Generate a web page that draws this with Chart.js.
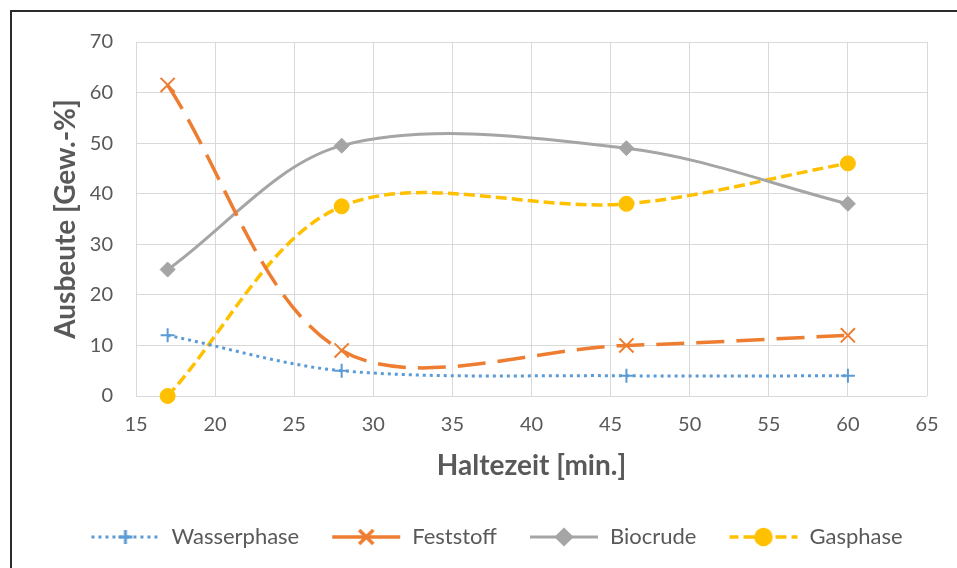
<!DOCTYPE html>
<html>
<head>
<meta charset="utf-8">
<script src="https://cdn.jsdelivr.net/npm/chart.js@4.4.1/dist/chart.umd.min.js"></script>
<style>
  html, body { margin: 0; padding: 0; background: #ffffff; }
  #wrap { position: relative; width: 957px; height: 568px; }
</style>
</head>
<body>
<div id="wrap"><canvas id="chart"></canvas></div>
<script>
// Holding time (min.) and product yields (wt.-%)
const haltezeit = [17, 28, 46, 60];
const wasserphase = [12, 5, 4, 4];
const feststoff = [61.5, 9, 10, 12];
const biocrude = [25, 49.5, 49, 38];
const gasphase = [0, 37.5, 38, 46];

const xTicks = [15, 20, 25, 30, 35, 40, 45, 50, 55, 60, 65];
const yTicks = [0, 10, 20, 30, 40, 50, 60, 70];

const seriesNames = ['Wasserphase', 'Feststoff', 'Biocrude', 'Gasphase'];

const TEXT = '#595959';
const GRID = '#d9d9d9';
const FONT = 'Lato, "Liberation Sans", sans-serif';

function points(values) {
  return haltezeit.map((x, i) => ({ x: x, y: values[i] }));
}

// Line + marker sample used as the legend symbol
function legendIcon(ds) {
  const w = 70, h = 24;
  const c = document.createElement('canvas');
  c.width = w; c.height = h;
  const ctx = c.getContext('2d');
  ctx.strokeStyle = ds.borderColor;
  ctx.lineWidth = ds.borderWidth;
  ctx.setLineDash(ds.legendDash || []);
  ctx.lineDashOffset = ds.legendDashOffset || 0;
  ctx.beginPath();
  ctx.moveTo(1, h / 2);
  ctx.lineTo(w - 1, h / 2);
  ctx.stroke();
  ctx.setLineDash([]);
  ctx.fillStyle = ds.pointBackgroundColor;
  ctx.strokeStyle = ds.pointBorderColor;
  Chart.helpers.drawPoint(ctx, {
    pointStyle: ds.pointStyle,
    radius: ds.pointRadius,
    borderWidth: ds.pointBorderWidth,
    rotation: 0
  }, w / 2, h / 2);
  return c;
}

const datasets = [
  {
    label: seriesNames[0],
    data: points(wasserphase),
    borderColor: '#5b9bd5',
    borderWidth: 3,
    borderDash: [3, 4],
    legendDash: [3, 4],
    pointStyle: 'cross',
    pointRadius: 7,
    pointBorderWidth: 2,
    pointBorderColor: '#5b9bd5',
    pointBackgroundColor: '#5b9bd5'
  },
  {
    label: seriesNames[1],
    data: points(feststoff),
    borderColor: '#ed7d31',
    borderWidth: 3.5,
    borderDash: [28, 12],
    legendDash: [],
    pointStyle: 'crossRot',
    pointRadius: 10,
    pointBorderWidth: 2,
    pointBorderColor: '#ed7d31',
    pointBackgroundColor: '#ed7d31'
  },
  {
    label: seriesNames[2],
    data: points(biocrude),
    borderColor: '#a5a5a5',
    borderWidth: 3,
    borderDash: [],
    pointStyle: 'rectRot',
    pointRadius: 7.5,
    pointBorderWidth: 1,
    pointBorderColor: '#a5a5a5',
    pointBackgroundColor: '#a5a5a5'
  },
  {
    label: seriesNames[3],
    data: points(gasphase),
    borderColor: '#ffc000',
    borderWidth: 3.5,
    borderDash: [11, 5],
    legendDash: [11, 5],
    legendDashOffset: 2,
    pointStyle: 'circle',
    pointRadius: 7.5,
    pointBorderWidth: 1,
    pointBorderColor: '#ffc000',
    pointBackgroundColor: '#ffc000'
  }
].map(ds => Object.assign(ds, {
  fill: false,
  tension: 0.33,
  clip: false,
  pointHoverRadius: ds.pointRadius
}));

// Outer frame of the chart object
const framePlugin = {
  id: 'frame',
  afterDraw(chart) {
    const ctx = chart.ctx;
    ctx.save();
    ctx.strokeStyle = '#2b2b2b';
    ctx.lineWidth = 2;
    ctx.strokeRect(11, 11, 960, 570);
    ctx.restore();
  }
};

// Legend row sits a little right of the canvas centre and closer to the axis title
const legendShift = {
  id: 'legendShift',
  afterLayout(chart) {
    const lg = chart.legend;
    if (lg) {
      lg.left += 33; lg.right += 33;
      lg.top -= 2; lg.bottom -= 2;
    }
  }
};

new Chart(document.getElementById('chart'), {
  type: 'line',
  data: { datasets: datasets },
  plugins: [framePlugin, legendShift],
  options: {
    responsive: true,
    maintainAspectRatio: false,
    animation: false,
    events: [],
    layout: { padding: { left: 0, right: 30, top: 42, bottom: 8 } },
    scales: {
      x: {
        type: 'linear',
        min: 15,
        max: 65,
        afterBuildTicks(scale) { scale.ticks = xTicks.map(v => ({ value: v })); },
        afterFit(scale) { scale.height = 100; },
        grid: { color: GRID, lineWidth: 1, drawTicks: false },
        border: { display: false },
        ticks: { color: TEXT, font: { family: FONT, size: 20 }, padding: 17, maxRotation: 0 },
        title: {
          display: true,
          text: 'Haltezeit [min.]',
          color: TEXT,
          font: { family: FONT, size: 28, weight: 'bold' },
          padding: { top: 0, bottom: 13 }
        }
      },
      y: {
        type: 'linear',
        min: 0,
        max: 70,
        afterBuildTicks(scale) { scale.ticks = yTicks.map(v => ({ value: v })); },
        afterFit(scale) { scale.width = 136; },
        grid: { color: GRID, lineWidth: 1, drawTicks: false },
        border: { display: false },
        ticks: { color: TEXT, font: { family: FONT, size: 20 }, padding: 23 },
        title: {
          display: true,
          text: 'Ausbeute [Gew.-%]',
          color: TEXT,
          font: { family: FONT, size: 28, weight: 'bold' },
          padding: { top: 49, bottom: 0 }
        }
      }
    },
    plugins: {
      tooltip: { enabled: false },
      legend: {
        position: 'bottom',
        labels: {
          color: TEXT,
          font: { family: FONT, size: 22 },
          usePointStyle: true,
          pointStyleWidth: 70,
          padding: 32,
          generateLabels(chart) {
            return chart.data.datasets.map((ds, i) => ({
              text: ds.label,
              pointStyle: legendIcon(ds),
              fillStyle: ds.borderColor,
              strokeStyle: ds.borderColor,
              lineWidth: 0,
              fontColor: TEXT,
              hidden: false,
              datasetIndex: i
            }));
          }
        }
      }
    }
  }
});
</script>
</body>
</html>
